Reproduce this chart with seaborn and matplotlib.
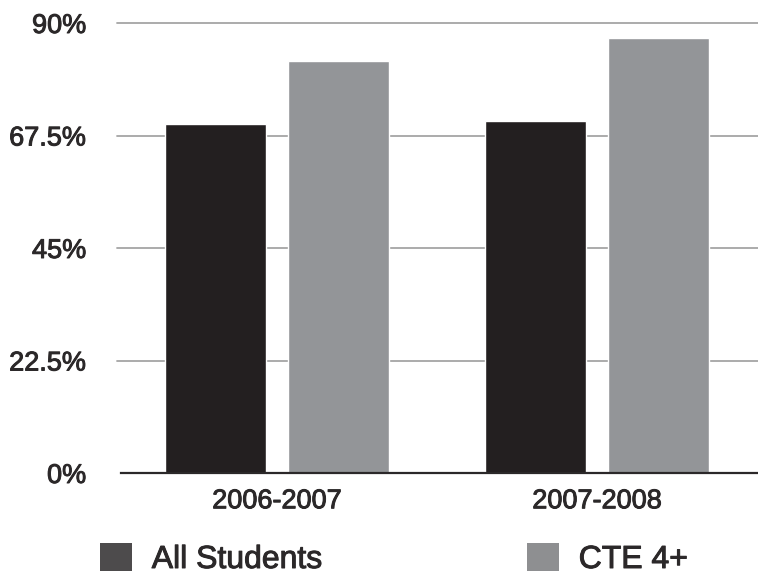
import matplotlib
matplotlib.use("Agg")
import matplotlib.pyplot as plt
import matplotlib.patheffects as pe
import seaborn as sns
import pandas as pd
from matplotlib.patches import Patch

years = ["2006-2007", "2007-2008"]
groups = ["All Students", "CTE 4+"]
all_students = [69.8, 70.4]
cte_4plus = [82.4, 87.1]
y_ticks = [0, 22.5, 45, 67.5, 90]
y_tick_labels = ["0%", "22.5%", "45%", "67.5%", "90%"]

df = pd.DataFrame({
    "Year": years * 2,
    "Group": [groups[0]] * 2 + [groups[1]] * 2,
    "Rate": all_students + cte_4plus,
})

sns.set_theme(style="white")
plt.rcParams["font.family"] = ["Liberation Sans", "DejaVu Sans"]
text_color = "#2b2829"
bar_colors = ["#231f20", "#939598"]
legend_colors = ["#4d4b4c", "#8e8f91"]
stroke = [pe.withStroke(linewidth=0.7, foreground=text_color)]

fig = plt.figure(figsize=(7.58, 5.78), dpi=100)
ax = fig.add_axes([121 / 758, 105 / 578, 637 / 758, 450 / 578])

sns.barplot(data=df, x="Year", y="Rate", hue="Group", palette=bar_colors,
            width=0.772, gap=0.18, saturation=1, ax=ax, legend=False, zorder=3)

ax.set_ylim(0, 90)
ax.set_xlim(-0.4875, 1.503)
ax.set_yticks(y_ticks)
ax.set_yticklabels(y_tick_labels)
ax.set_xlabel("")
ax.set_ylabel("")

for y in y_ticks[1:]:
    ax.axhline(y, color="#a5a5a5", lw=1.3, zorder=1, xmin=-0.006, clip_on=False)

for s in ["top", "right", "left"]:
    ax.spines[s].set_visible(False)
ax.spines["bottom"].set_color(text_color)
ax.spines["bottom"].set_linewidth(1.6)
ax.spines["bottom"].set_zorder(4)

ax.tick_params(axis="y", length=0, pad=25, labelsize=19.5, labelcolor=text_color)
ax.tick_params(axis="x", which="major", length=0, pad=11, labelsize=19.5, labelcolor=text_color)
ax.set_xticks([-0.4875, 0.5], minor=True)
ax.tick_params(axis="x", which="minor", direction="in", length=6, width=1.3, color=text_color)
for lab in ax.get_xticklabels() + ax.get_yticklabels():
    lab.set_path_effects(stroke)

handles = [Patch(facecolor=c, edgecolor="none") for c in legend_colors]
leg = fig.legend(handles, groups, loc="lower left", bbox_to_anchor=(100 / 758, 3 / 578),
                 ncol=2, frameon=False, fontsize=23, handlelength=1.0, handleheight=0.95,
                 handletextpad=0.62, columnspacing=6.4, borderpad=0, borderaxespad=0,
                 labelcolor=text_color)
for t in leg.get_texts():
    t.set_path_effects(stroke)

fig.savefig("out.png", dpi=100)
